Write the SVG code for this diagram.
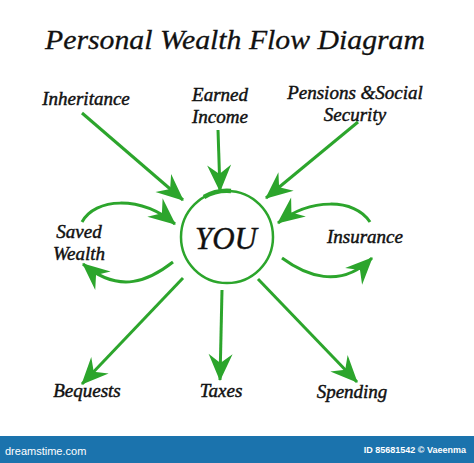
<svg xmlns="http://www.w3.org/2000/svg" width="474" height="463" viewBox="0 0 474 463">
<defs>
<marker id="ah" viewBox="-30 -15 32 30" refX="0" refY="0" markerWidth="32" markerHeight="30" markerUnits="userSpaceOnUse" orient="auto" overflow="visible">
<path d="M 1 0 L -26 -12 L -17 0 L -26 12 Z" fill="#2ca52c"/>
</marker>
</defs>
<style>
.lbl{font-family:"Liberation Serif",serif;font-style:italic;font-size:19px;fill:#111;stroke:#111;stroke-width:0.45;}
.c{stroke:#2ca52c;stroke-width:3;fill:none;marker-end:url(#ah);}
</style>
<rect width="474" height="463" fill="#fff"/>
<text x="235" y="49" text-anchor="middle" font-family="Liberation Serif,serif" font-style="italic" font-size="28" fill="#111" stroke="#111" stroke-width="0.3" textLength="380" lengthAdjust="spacingAndGlyphs">Personal Wealth Flow Diagram</text>
<g id="you">
<circle cx="227" cy="237" r="46" fill="none" stroke="#2ca52c" stroke-width="2.5"/>
<path d="M 204 197 A 46 46 0 0 1 231 191" fill="none" stroke="#2ca52c" stroke-width="4.5"/>
<text x="226" y="249" text-anchor="middle" font-family="Liberation Serif,serif" font-style="italic" font-size="31" fill="#111" stroke="#111" stroke-width="0.4">YOU</text>
</g>
<g id="inheritance"><text class="lbl" x="86" y="105" text-anchor="middle">Inheritance</text></g>
<g id="earned"><text class="lbl" x="220" y="101" text-anchor="middle">Earned</text><text class="lbl" x="220" y="123" text-anchor="middle">Income</text></g>
<g id="pensions"><text class="lbl" x="355" y="99" text-anchor="middle">Pensions &amp;Social</text><text class="lbl" x="355" y="121" text-anchor="middle">Security</text></g>
<g id="saved"><text class="lbl" x="79" y="238" text-anchor="middle">Saved</text><text class="lbl" x="79" y="260" text-anchor="middle">Wealth</text></g>
<g id="insurance"><text class="lbl" x="365" y="243" text-anchor="middle">Insurance</text></g>
<g id="bequests"><text class="lbl" x="87" y="397" text-anchor="middle">Bequests</text></g>
<g id="taxes"><text class="lbl" x="221" y="397" text-anchor="middle">Taxes</text></g>
<g id="spending"><text class="lbl" x="352" y="398" text-anchor="middle">Spending</text></g>
<g id="connectors">
<path class="c" d="M 82 113 L 183 200"/>
<path class="c" d="M 218 130 L 220 191"/>
<path class="c" d="M 358 122 L 266 198"/>
<path class="c" d="M 82 222 C 95 198, 140 195, 175 224"/>
<path class="c" d="M 173 262 C 150 280, 120 295, 83 264"/>
<path class="c" d="M 370 222 C 355 198, 310 198, 278 223"/>
<path class="c" d="M 282 258 C 305 275, 340 290, 372 258"/>
<path class="c" d="M 183 278 L 82 384"/>
<path class="c" d="M 222 290 L 220 380"/>
<path class="c" d="M 258 279 L 357 382"/>
</g>
<rect x="0" y="436" width="474" height="27" fill="#1b73ad"/>
<text x="5" y="455" font-family="Liberation Sans,sans-serif" font-size="11" fill="#fff">dreamstime.com</text>
<text x="466" y="453" text-anchor="end" font-family="Liberation Sans,sans-serif" font-size="9" font-weight="bold" fill="#fff">ID 85681542 © Vaeenma</text>
</svg>
